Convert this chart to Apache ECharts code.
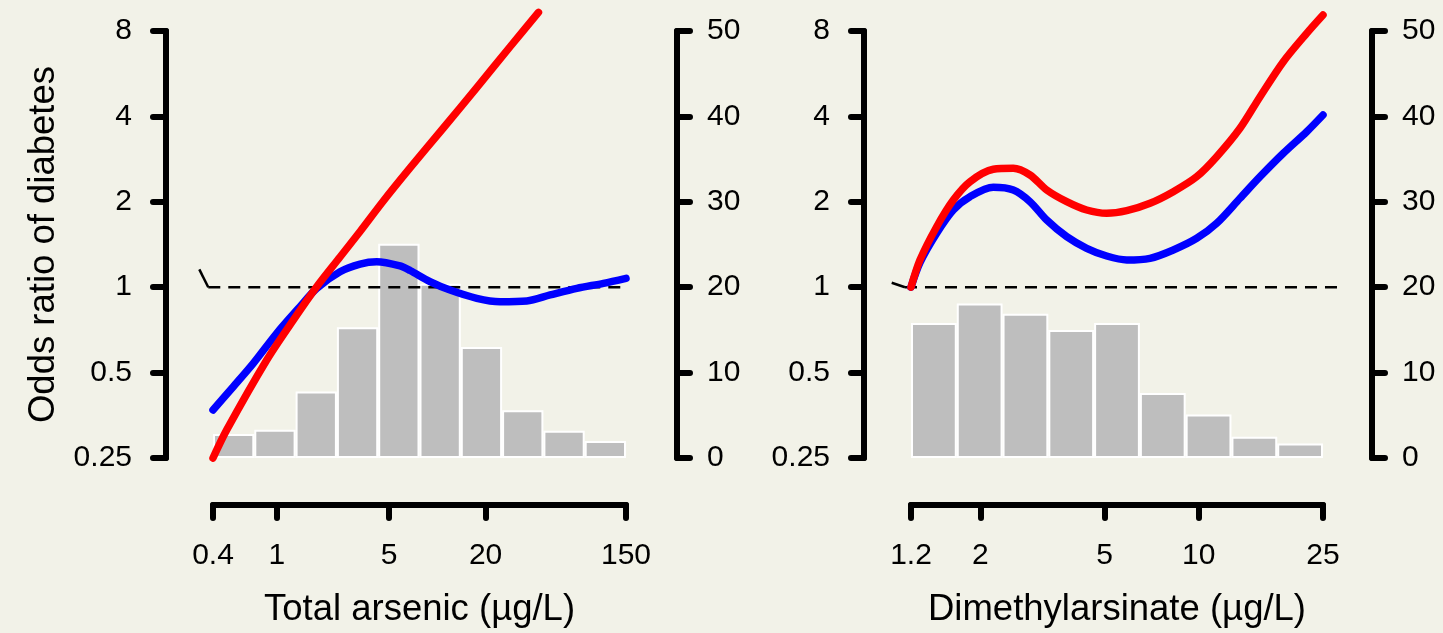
<!DOCTYPE html>
<html>
<head>
<meta charset="utf-8">
<title>Odds ratio of diabetes</title>
<script src="https://cdn.jsdelivr.net/npm/echarts@6/dist/echarts.min.js"></script>
<style>
  html, body { margin: 0; padding: 0; background: #f2f2e8; }
  #chart { width: 1443px; height: 633px; }
</style>
</head>
<body>
<div id="chart"></div>
<script>
// histogram bins (share of participants, %), equal width on the log scale
const totalAsBins = ['0.4-0.72', '0.72-1.3', '1.3-2.4', '2.4-4.3', '4.3-7.7', '7.7-14', '14-25', '25-46', '46-83', '83-150'];
const totalAsPct = [2.8, 3.3, 7.8, 15.3, 25.1, 20.4, 13.0, 5.6, 3.2, 2.0];
const dmaBins = ['1.2-1.7', '1.7-2.4', '2.4-3.3', '3.3-4.6', '4.6-6.5', '6.5-9.1', '9.1-13', '13-18', '18-25'];
const dmaPct = [15.8, 18.1, 16.9, 15.0, 15.8, 7.6, 5.1, 2.5, 1.7];

// odds ratio curves, [concentration, OR]
const totalAsRed = [[0.4, 0.25], [0.487, 0.314], [0.865, 0.554], [1.266, 0.766], [1.772, 1.004], [2.476, 1.278],
  [3.301, 1.572], [4.61, 2.013], [6.765, 2.632], [10.91, 3.641], [17.62, 5.057], [28.42, 7.04], [42.7, 9.3]];
const totalAsBlue = [[0.4, 0.369], [0.535, 0.446], [0.713, 0.539], [0.998, 0.688], [1.394, 0.854], [1.772, 0.991],
  [2.476, 1.134], [3.301, 1.207], [4.195, 1.23], [5.86, 1.188], [6.765, 1.145], [9.01, 1.047], [12.01, 0.977],
  [17.62, 0.914], [24.62, 0.889], [36.12, 0.894], [50.5, 0.939], [74.1, 0.991], [108.5, 1.032], [150, 1.075]];
const dmaRed = [[1.2, 1], [1.282, 1.247], [1.45, 1.634], [1.639, 2.029], [1.854, 2.355], [2.201, 2.604], [2.551, 2.625],
  [2.885, 2.486], [3.263, 2.201], [3.781, 2.002], [4.381, 1.871], [5.076, 1.822], [5.885, 1.861], [6.986, 1.976],
  [8.294, 2.171], [9.856, 2.452], [11.42, 2.884], [13.56, 3.632], [15.72, 4.694], [18.66, 6.236], [22.17, 7.851], [25, 9.11]];
const dmaBlue = [[1.2, 1], [1.282, 1.22], [1.45, 1.549], [1.639, 1.871], [1.854, 2.085], [2.201, 2.25], [2.551, 2.201],
  [2.885, 2.002], [3.263, 1.725], [3.781, 1.507], [4.381, 1.371], [5.076, 1.288], [5.885, 1.247], [6.986, 1.264],
  [8.294, 1.353], [9.856, 1.487], [11.42, 1.68], [13.56, 2.058], [15.72, 2.452], [18.66, 2.965], [22.17, 3.533], [25, 4.046]];

// reference line at OR = 1 and its small leading stub
const totalAsRef = [[0.3738, 1], [150, 1]];
const totalAsStub = [[0.3286, 1.156], [0.3738, 1]];
const dmaRef = [[1.148, 1], [28.3, 1]];
const dmaStub = [[1.041, 1.037], [1.148, 1]];

// tick labels
const totalAsTicks = [0.4, 1, 5, 20, 150];
const dmaTicks = [1.2, 2, 5, 10, 25];

const font = "'Liberation Sans', Arial, sans-serif";
const axisStroke = { color: '#000', width: 6, cap: 'round' };
const plotTop = 31, plotHeight = 427;
const panels = [
  { left: 213, width: 413, lo: 0.4, hi: 150, padL: 25, padR: 10 },
  { left: 911, width: 412, lo: 1.2, hi: 25, padL: 30, padR: 25 }
];

function xLog(grid, min, max, ticks, name) {
  return {
    gridIndex: grid, type: 'log', logBase: 10, min: min, max: max,
    position: 'bottom', offset: 47,
    name: name, nameLocation: 'middle', nameGap: 86,
    nameTextStyle: { fontSize: 36.5, color: '#000', fontFamily: font },
    axisLine: { show: true, onZero: false, lineStyle: axisStroke },
    axisTick: { show: true, length: 13, lineStyle: axisStroke, customValues: ticks },
    axisLabel: { customValues: ticks, margin: 36, fontSize: 30, color: '#000', fontFamily: font,
      formatter: v => String(+(+v).toPrecision(6)) },
    splitLine: { show: false }, minorTick: { show: false }
  };
}

// hidden log axis on a slightly wider grid with the same scale, so the
// reference line may run past the ends of the drawn axis
function xWide(grid, p) {
  const span = p.hi / p.lo;
  return { gridIndex: grid, type: 'log', show: false, axisLine: { onZero: false },
    min: p.lo * Math.pow(span, -p.padL / p.width),
    max: p.hi * Math.pow(span, p.padR / p.width) };
}

function xCat(grid, cats) {
  return { gridIndex: grid, type: 'category', data: cats, show: false, boundaryGap: true,
    axisLine: { onZero: false } };
}

function yOdds(grid, name) {
  return {
    gridIndex: grid, type: 'log', logBase: 2, min: 0.25, max: 8, position: 'left', offset: 47,
    name: name, nameLocation: 'middle', nameGap: 104,
    nameTextStyle: { fontSize: 36.5, color: '#000', fontFamily: font },
    axisLine: { show: true, onZero: false, lineStyle: axisStroke },
    axisTick: { show: true, length: 13, lineStyle: axisStroke },
    axisLabel: { margin: 34, fontSize: 30, color: '#000', fontFamily: font,
      formatter: v => String(+(+v).toPrecision(6)) },
    splitLine: { show: false }
  };
}

function yHidden(grid) {
  return { gridIndex: grid, type: 'log', logBase: 2, min: 0.25, max: 8, show: false };
}

function yPct(grid, offset) {
  return {
    gridIndex: grid, type: 'value', min: 0, max: 50, interval: 10, position: 'right', offset: offset,
    axisLine: { show: true, onZero: false, lineStyle: axisStroke },
    axisTick: { show: true, length: 13, lineStyle: axisStroke },
    axisLabel: { margin: 30, fontSize: 30, color: '#000', fontFamily: font },
    splitLine: { show: false }
  };
}

function bars(xi, yi, values) {
  return {
    type: 'bar', xAxisIndex: xi, yAxisIndex: yi, data: values, barCategoryGap: '0%', z: 1,
    itemStyle: { color: '#bebebe', borderColor: '#ffffff', borderWidth: 2 }, silent: true
  };
}

function curve(xi, yi, data, color, z) {
  return {
    type: 'line', xAxisIndex: xi, yAxisIndex: yi, data: data, showSymbol: false, smooth: 0.3,
    clip: false, z: z, silent: true,
    lineStyle: { color: color, width: 7.5, cap: 'round', join: 'round' }
  };
}

function refLine(xi, yi, data, dashed) {
  return {
    type: 'line', xAxisIndex: xi, yAxisIndex: yi, data: data, showSymbol: false,
    clip: false, z: 2, silent: true,
    lineStyle: { color: '#000', width: 2.5, type: dashed ? [12, 8] : 'solid' }
  };
}

const chart = echarts.init(document.getElementById('chart'));
chart.setOption({
  animation: false,
  backgroundColor: '#f2f2e8',
  textStyle: { fontFamily: font },
  grid: [
    { left: panels[0].left, top: plotTop, width: panels[0].width, height: plotHeight },
    { left: panels[1].left, top: plotTop, width: panels[1].width, height: plotHeight },
    { left: panels[0].left - panels[0].padL, top: plotTop,
      width: panels[0].width + panels[0].padL + panels[0].padR, height: plotHeight },
    { left: panels[1].left - panels[1].padL, top: plotTop,
      width: panels[1].width + panels[1].padL + panels[1].padR, height: plotHeight }
  ],
  xAxis: [
    xLog(0, 0.4, 150, totalAsTicks, 'Total arsenic (µg/L)'),
    xCat(0, totalAsBins),
    xLog(1, 1.2, 25, dmaTicks, 'Dimethylarsinate (µg/L)'),
    xCat(1, dmaBins),
    xWide(2, panels[0]),
    xWide(3, panels[1])
  ],
  yAxis: [
    yOdds(0, 'Odds ratio of diabetes'),
    yPct(0, 51),
    yOdds(1, ''),
    yPct(1, 49),
    yHidden(2),
    yHidden(3)
  ],
  series: [
    bars(1, 1, totalAsPct),
    refLine(4, 4, totalAsRef, true),
    refLine(4, 4, totalAsStub, false),
    curve(0, 0, totalAsBlue, '#0000ff', 3),
    curve(0, 0, totalAsRed, '#ff0000', 4),
    bars(3, 3, dmaPct),
    refLine(5, 5, dmaRef, true),
    refLine(5, 5, dmaStub, false),
    curve(2, 2, dmaBlue, '#0000ff', 3),
    curve(2, 2, dmaRed, '#ff0000', 4)
  ]
});
</script>
</body>
</html>
